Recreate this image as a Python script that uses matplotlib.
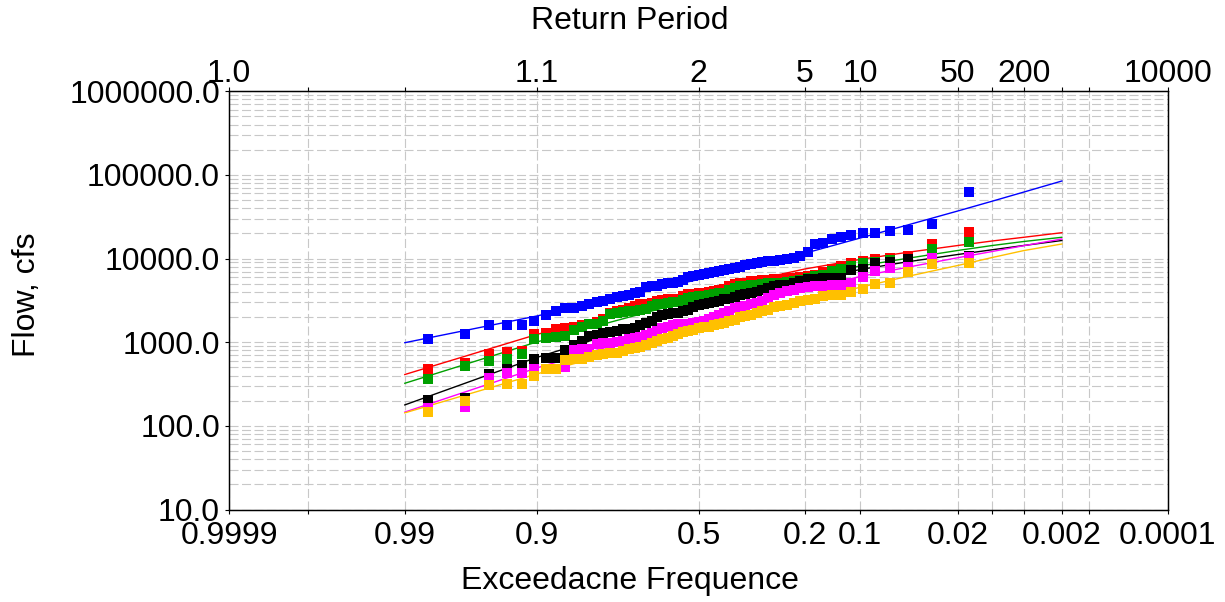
import numpy as np
import matplotlib
matplotlib.use("Agg")
import matplotlib.pyplot as plt
from matplotlib.ticker import FixedLocator, FixedFormatter, LogLocator, FuncFormatter, NullFormatter, NullLocator
from statistics import NormalDist

plt.rcParams['font.family'] = ['Liberation Sans', 'DejaVu Sans']
plt.rcParams['lines.scale_dashes'] = False

# axis ticks (exceedance probability) and matching return periods
prob_ticks = [0.9999, 0.999, 0.99, 0.9, 0.5, 0.2, 0.1, 0.02, 0.01, 0.005, 0.002, 0.001, 0.0001]
prob_labels = ['0.9999', '', '0.99', '0.9', '0.5', '0.2', '0.1', '0.02', '', '', '0.002', '', '0.0001']
period_labels = ['1.0', '', '', '1.1', '2', '5', '10', '50', '', '200', '', '', '10000']

# fitted curves are read at these exceedance probabilities
fit_prob = [0.99, 0.9, 0.5, 0.2, 0.1, 0.05, 0.02, 0.01, 0.005, 0.002]

# observed annual peaks, sorted smallest to largest (cfs)
blue_obs = [1084, 1264, 1594, 1607, 1620, 1779, 2098, 2343, 2531, 2545, 2710, 2887, 3010, 3136, 3243,
            3501, 3599, 3669, 3877, 4018, 4511, 4637, 4701, 4926, 5063, 5147, 5291, 5545, 5972, 6189,
            6362, 6486, 6668, 6855, 7047, 7304, 7568, 7781, 7997, 8380, 8614, 8927, 9101, 9228, 9356,
            9617, 9885, 10300, 10590, 11990, 14940, 15230, 17140, 18260, 19140, 20060, 20100, 21370,
            21960, 25910, 62520]
red_obs = [475, 572, 717, 758, 792, 1254, 1289, 1439, 1467, 1533, 1620, 1674, 1769, 1895, 2235, 2343,
           2448, 2579, 2710, 2840, 2887, 2969, 3110, 3198, 3243, 3287, 3332, 3521, 3720, 3771, 3898,
           3930, 4040, 4096, 4210, 4328, 4676, 4941, 5105, 5176, 5321, 5395, 5470, 5576, 5654, 5701,
           5780, 5892, 5941, 6189, 6450, 6913, 7610, 8153, 8927, 9485, 9885, 10160, 10590, 14940, 20790]
green_obs = [360, 520, 591, 630, 733, 1093, 1117, 1155, 1187, 1381, 1533, 1629, 1674, 1794, 2145, 2205,
             2285, 2343, 2382, 2428, 2496, 2748, 2825, 2903, 2944, 2985, 3026, 3198, 3379, 3426, 3540,
             3570, 3669, 3720, 3824, 3930, 4246, 4486, 4637, 4701, 4831, 4898, 4966, 5063, 5105, 5176,
             5248, 5395, 5545, 5860, 6189, 6362, 7107, 7610, 8153, 8855, 9101, 9617, 10020, 13020, 15790]
black_obs = [204, 217, 417, 478, 530, 630, 648, 653, 800, 926, 1043, 1187, 1220, 1278, 1336, 1373,
             1427, 1451, 1492, 1607, 1712, 1808, 2030, 2087, 2145, 2205, 2235, 2330, 2428, 2637, 2786,
             2864, 2944, 3026, 3110, 3243, 3332, 3473, 3619, 3771, 3877, 3985, 4268, 4449, 4701, 4831,
             4898, 5105, 5321, 5623, 5701, 5780, 5811, 5860, 7304, 7506, 8734, 9177, 9885, 10160, 10740]
magenta_obs = [164, 168, 370, 429, 432, 475, 481, 485, 501, 807, 823, 830, 947, 971, 992, 1006, 1043,
               1084, 1114, 1164, 1210, 1278, 1362, 1459, 1541, 1585, 1629, 1652, 1674, 1698, 1769, 1818,
               1921, 2030, 2115, 2205, 2362, 2531, 2601, 2710, 2825, 2944, 3153, 3379, 3619, 3824, 4096,
               4268, 4449, 4611, 4637, 4701, 4831, 4898, 5147, 6072, 7047, 7652, 7997, 10240, 10440]
orange_obs = [146, 200, 305, 317, 319, 395, 478, 480, 613, 625, 630, 671, 704, 723, 737, 750, 792, 823,
              846, 884, 926, 971, 1034, 1078, 1123, 1187, 1271, 1343, 1362, 1400, 1459, 1500, 1541, 1585,
              1629, 1698, 1794, 1869, 1975, 2058, 2115, 2235, 2330, 2428, 2601, 2710, 2786, 2944, 3068,
              3198, 3332, 3521, 3619, 3669, 4018, 4292, 4926, 5063, 6855, 8614, 8782]

# fitted frequency curves at fit_prob (cfs)
blue_fit = [987, 2058, 5623, 11560, 17620, 24930, 37060, 48530, 62350, 84620]
red_fit = [411, 1237, 3953, 7506, 9777, 11820, 14330, 16230, 17970, 20390]
green_fit = [323, 1006, 3332, 6189, 8153, 10020, 12500, 14330, 16000, 17970]
black_fit = [178, 657, 2637, 5395, 7404, 9101, 11190, 12740, 14330, 16450]
magenta_fit = [146, 492, 1844, 4210, 6106, 7824, 10240, 12150, 14260, 17140]
orange_fit = [143, 417, 1427, 3198, 4536, 6072, 8267, 10300, 12460, 14940]

series = [
    (blue_obs, blue_fit, '#0000ff'),
    (red_obs, red_fit, '#ff0000'),
    (green_obs, green_fit, '#00a000'),
    (black_obs, black_fit, '#000000'),
    (magenta_obs, magenta_fit, '#ff00ff'),
    (orange_obs, orange_fit, '#ffc000'),
]

# normal probability scale
nd = NormalDist()


def prob_fwd(p):
    p = np.clip(np.asarray(p, dtype=float), 1e-12, 1 - 1e-12)
    return np.array([nd.inv_cdf(v) if np.isfinite(v) else np.nan for v in p.ravel()]).reshape(p.shape)


def prob_inv(z):
    z = np.asarray(z, dtype=float)
    return np.array([nd.cdf(v) if np.isfinite(v) else np.nan for v in z.ravel()]).reshape(z.shape)


fig = plt.figure(figsize=(12.25, 6.02), dpi=100)
ax = fig.add_axes([229 / 1225, 1 - 509.5 / 602, 939 / 1225, 418.2 / 602])
ax.set_xscale('function', functions=(prob_fwd, prob_inv))
ax.set_yscale('log')

grid_kw = dict(color='#c8c8c8', linewidth=0.8, linestyle=(0, (6.5, 2.5)))

for obs, fit, col in series:
    n = len(obs)
    pos = 1 - np.arange(1, n + 1) / (n + 1)  # Weibull plotting position
    ax.plot(fit_prob, fit, color=col, lw=1.0, zorder=3)
    ax.plot(pos, obs, 's', color=col, ms=6.6, mew=0, zorder=4)

ax.set_xlim(0.9999, 0.0001)
ax.set_ylim(10, 1e6)

ax.xaxis.set_major_locator(FixedLocator(prob_ticks))
ax.xaxis.set_major_formatter(FixedFormatter(prob_labels))
ax.xaxis.set_minor_locator(NullLocator())
ax.yaxis.set_major_locator(LogLocator(base=10, numticks=10))
ax.yaxis.set_major_formatter(FuncFormatter(lambda v, pos: '%.1f' % v))
ax.yaxis.set_minor_locator(LogLocator(base=10, subs=np.arange(2, 10), numticks=50))
ax.yaxis.set_minor_formatter(NullFormatter())

ax.grid(True, axis='x', which='major', **grid_kw)
ax.grid(True, axis='y', which='both', **grid_kw)
ax.set_axisbelow(True)

fs = 23
ax.tick_params(axis='x', which='major', direction='out', length=3, width=0.8, labelsize=fs, pad=5)
ax.tick_params(axis='y', which='major', direction='out', length=3, width=0.8, labelsize=fs, pad=3.5)
ax.tick_params(axis='y', which='minor', length=0)

ax_top = ax.twiny()
ax_top.set_xscale('function', functions=(prob_fwd, prob_inv))
ax_top.set_xlim(0.9999, 0.0001)
ax_top.xaxis.set_major_locator(FixedLocator(prob_ticks))
ax_top.xaxis.set_major_formatter(FixedFormatter(period_labels))
ax_top.xaxis.set_minor_locator(NullLocator())
ax_top.tick_params(axis='x', direction='out', length=3, width=0.8, labelsize=fs, pad=-1)

for a in (ax, ax_top):
    for sp in a.spines.values():
        sp.set_color('black')
        sp.set_linewidth(0.9)

ax.set_xlabel('Exceedacne Frequence', fontsize=fs, va='center')
ax.xaxis.set_label_coords(0.427, -0.171)
ax.set_ylabel('Flow, cfs', fontsize=fs, va='center')
ax.yaxis.set_label_coords(-0.215, 0.513)
ax_top.set_xlabel('Return Period', fontsize=fs, va='center')
ax_top.xaxis.set_label_coords(0.427, 1.168)

fig.savefig('out.png', dpi=100, facecolor='white')
